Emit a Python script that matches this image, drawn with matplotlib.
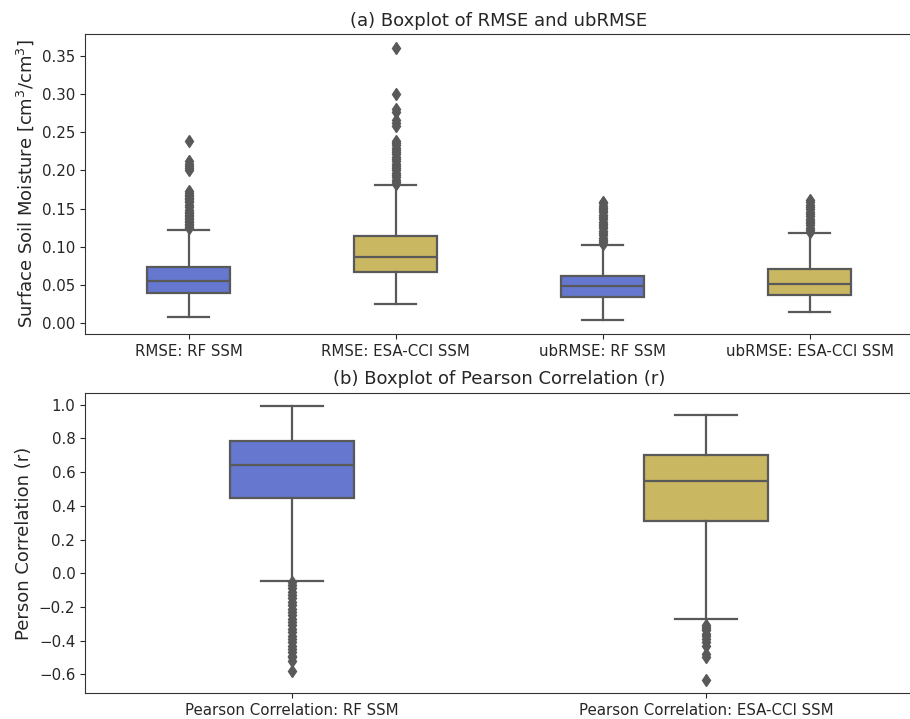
import numpy as np
import matplotlib
matplotlib.use('Agg')
import matplotlib.pyplot as plt

# (a) RMSE / ubRMSE boxplot statistics
err_labels = ['RMSE: RF SSM', 'RMSE: ESA-CCI SSM', 'ubRMSE: RF SSM', 'ubRMSE: ESA-CCI SSM']
err_q1 = [0.0397, 0.0672, 0.0344, 0.0370]
err_med = [0.0550, 0.0864, 0.0480, 0.0514]
err_q3 = [0.0733, 0.1135, 0.0615, 0.0707]
err_whislo = [0.0079, 0.0249, 0.0035, 0.0140]
err_whishi = [0.1217, 0.1806, 0.1017, 0.1174]
err_fliers = [
    [0.124, 0.126, 0.128, 0.130, 0.132, 0.134, 0.136, 0.138, 0.140, 0.142,
     0.144, 0.146, 0.148, 0.152, 0.155, 0.158, 0.160, 0.162, 0.164, 0.166,
     0.168, 0.170, 0.173, 0.200, 0.203, 0.206, 0.209, 0.212, 0.238],
    [0.182, 0.185, 0.188, 0.191, 0.194, 0.197, 0.200, 0.203, 0.206, 0.209,
     0.212, 0.215, 0.218, 0.221, 0.224, 0.227, 0.230, 0.233, 0.236, 0.239,
     0.258, 0.262, 0.266, 0.277, 0.280, 0.300, 0.361],
    [0.103, 0.106, 0.109, 0.112, 0.115, 0.118, 0.121, 0.124, 0.127, 0.130,
     0.133, 0.136, 0.139, 0.142, 0.145, 0.148, 0.151, 0.154, 0.157, 0.159],
    [0.119, 0.122, 0.125, 0.128, 0.131, 0.134, 0.137, 0.140, 0.143, 0.146,
     0.149, 0.152, 0.155, 0.158, 0.161],
]

# (b) Pearson correlation boxplot statistics
r_labels = ['Pearson Correlation: RF SSM', 'Pearson Correlation: ESA-CCI SSM']
r_q1 = [0.449, 0.311]
r_med = [0.643, 0.546]
r_q3 = [0.783, 0.704]
r_whislo = [-0.049, -0.270]
r_whishi = [0.990, 0.937]
r_fliers = [
    [-0.055, -0.07, -0.09, -0.11, -0.13, -0.15, -0.17, -0.19, -0.21, -0.23,
     -0.25, -0.27, -0.29, -0.31, -0.33, -0.35, -0.37, -0.39, -0.41, -0.43,
     -0.45, -0.47, -0.49, -0.50, -0.52, -0.578],
    [-0.31, -0.32, -0.33, -0.34, -0.36, -0.37, -0.39, -0.41, -0.43,
     -0.48, -0.50, -0.632],
]

colors = ['#6577cf', '#c9b762']
line_c = '#595959'


def stats(labels, q1, med, q3, lo, hi, fl):
    out = []
    for i in range(len(labels)):
        out.append(dict(label=labels[i], q1=q1[i], med=med[i], q3=q3[i],
                        whislo=lo[i], whishi=hi[i], fliers=fl[i]))
    return out


def draw(ax, st, width, cols):
    n = len(st)
    b = ax.bxp(st, positions=range(n), widths=width, patch_artist=True,
               showfliers=True,
               boxprops=dict(edgecolor=line_c, linewidth=1.6),
               medianprops=dict(color=line_c, linewidth=1.6),
               whiskerprops=dict(color=line_c, linewidth=1.6),
               capprops=dict(color=line_c, linewidth=1.6),
               flierprops=dict(marker='d', markerfacecolor=line_c,
                               markeredgecolor=line_c, markersize=6.5))
    for i, p in enumerate(b['boxes']):
        p.set_facecolor(cols[i % len(cols)])
    ax.set_xlim(-0.5, n - 0.5)
    ax.tick_params(labelsize=10.8, colors='#262626')
    for s in ax.spines.values():
        s.set_color('#333333')


fig = plt.figure(figsize=(9.1, 7.19), dpi=100)
ax1 = fig.add_axes([0.0934, 0.5355, 0.910, 0.4172])
ax2 = fig.add_axes([0.0934, 0.0357, 0.910, 0.418])

draw(ax1, stats(err_labels, err_q1, err_med, err_q3, err_whislo, err_whishi, err_fliers), 0.4, colors)
ax1.set_title('(a) Boxplot of RMSE and ubRMSE', fontsize=13, color='#262626')
ax1.set_ylabel('Surface Soil Moisture [cm$^3$/cm$^3$]', fontsize=13, color='#262626')
ax1.yaxis.set_major_formatter(matplotlib.ticker.FormatStrFormatter('%.2f'))

draw(ax2, stats(r_labels, r_q1, r_med, r_q3, r_whislo, r_whishi, r_fliers), 0.3, colors)
ax2.set_title('(b) Boxplot of Pearson Correlation (r)', fontsize=13, color='#262626')
ax2.set_ylabel('Person Correlation (r)', fontsize=13, color='#262626')

fig.savefig('out.png', dpi=100)
